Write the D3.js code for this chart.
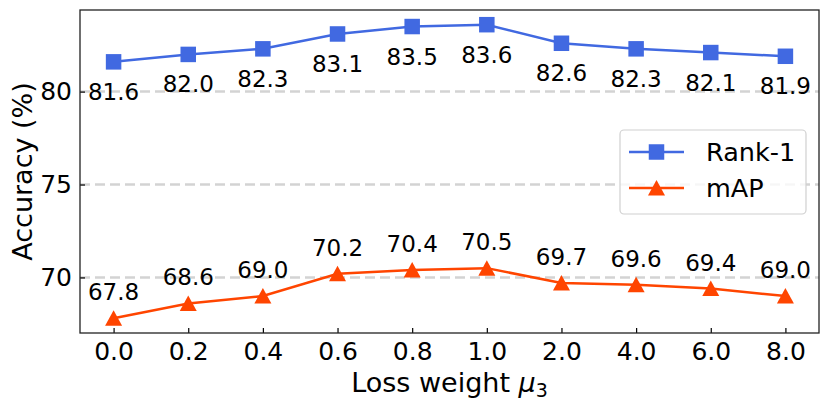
<!DOCTYPE html>
<html>
<head>
<meta charset="utf-8">
<script src="https://cdn.jsdelivr.net/npm/d3@7"></script>
<style>
  body { margin: 0; background: #fff; }
  text { font-family: "DejaVu Sans", sans-serif; fill: #000; }
</style>
</head>
<body>
<svg id="chart" width="830" height="407"></svg>
<script>
var weights = ['0.0', '0.2', '0.4', '0.6', '0.8', '1.0', '2.0', '4.0', '6.0', '8.0'];
var rank1 = [81.6, 82.0, 82.3, 83.1, 83.5, 83.6, 82.6, 82.3, 82.1, 81.9];
var mAP = [67.8, 68.6, 69.0, 70.2, 70.4, 70.5, 69.7, 69.6, 69.4, 69.0];
var yTicks = [70, 75, 80];

var svg = d3.select('#chart');
var mLeft = 80, mRight = 819, mTop = 10, mBottom = 333;

var x = d3.scaleLinear().domain([-0.45, weights.length - 0.55]).range([mLeft, mRight]);
var y = d3.scaleLinear().domain([67.01, 84.39]).range([mBottom, mTop]);

// grid
svg.selectAll('.grid').data(yTicks).enter()
    .append('line')
    .attr('x1', mLeft).attr('x2', mRight)
    .attr('y1', function(d){ return y(d); })
    .attr('y2', function(d){ return y(d); })
    .style('stroke', '#d3d3d3')
    .style('stroke-width', 2.5)
    .style('stroke-dasharray', '10,5');

// axes, ticks pointing in
var xAxis = d3.axisBottom(x)
    .tickValues(d3.range(weights.length))
    .tickFormat(function(i){ return weights[i]; })
    .tickSizeInner(-5).tickSizeOuter(0).tickPadding(9);
var yAxis = d3.axisLeft(y)
    .tickValues(yTicks)
    .tickSizeInner(-5).tickSizeOuter(0).tickPadding(8);

var gx = svg.append('g').attr('transform', 'translate(0,' + mBottom + ')').call(xAxis);
var gy = svg.append('g').attr('transform', 'translate(' + mLeft + ',0)').call(yAxis);
[gx, gy].forEach(function(g){
    g.select('.domain').remove();
    g.selectAll('line').style('stroke', '#000').style('stroke-width', 1.2);
    g.selectAll('text').style('font-size', '25px').style('font-family', '"DejaVu Sans", sans-serif');
});
gx.selectAll('text').attr('dy', '0.71em');

// frame
svg.append('rect')
    .attr('x', mLeft).attr('y', mTop)
    .attr('width', mRight - mLeft).attr('height', mBottom - mTop)
    .style('fill', 'none').style('stroke', '#222').style('stroke-width', 1.3);

var blue = '#4169e1', orange = '#ff4500';

var line = d3.line()
    .x(function(d, i){ return x(i); })
    .y(function(d){ return y(d); });

svg.append('path').datum(rank1).attr('d', line)
    .style('fill', 'none').style('stroke', blue).style('stroke-width', 2.5);
svg.append('path').datum(mAP).attr('d', line)
    .style('fill', 'none').style('stroke', orange).style('stroke-width', 2.5);

var sq = 15.5;
svg.selectAll('.sq').data(rank1).enter()
    .append('rect')
    .attr('x', function(d, i){ return x(i) - sq / 2; })
    .attr('y', function(d){ return y(d) - sq / 2; })
    .attr('width', sq).attr('height', sq)
    .style('fill', blue);

function tri(cx, cy){
    return 'M' + cx + ',' + (cy - 8) + 'L' + (cx - 8.5) + ',' + (cy + 7.5) + 'L' + (cx + 8.5) + ',' + (cy + 7.5) + 'Z';
}
svg.selectAll('.tri').data(mAP).enter()
    .append('path')
    .attr('d', function(d, i){ return tri(x(i), y(d)); })
    .style('fill', orange);

// value labels
svg.selectAll('.lr').data(rank1).enter()
    .append('text')
    .attr('x', function(d, i){ return x(i); })
    .attr('y', function(d){ return y(d) + 38; })
    .attr('text-anchor', 'middle')
    .style('font-size', '23px')
    .text(function(d){ return d.toFixed(1); });
svg.selectAll('.lm').data(mAP).enter()
    .append('text')
    .attr('x', function(d, i){ return x(i); })
    .attr('y', function(d){ return y(d) - 18; })
    .attr('text-anchor', 'middle')
    .style('font-size', '23px')
    .text(function(d){ return d.toFixed(1); });

// axis titles
svg.append('text')
    .attr('transform', 'translate(32,' + ((mTop + mBottom) / 2) + ') rotate(-90)')
    .attr('text-anchor', 'middle')
    .style('font-size', '27px')
    .text('Accuracy (%)');

var xl = svg.append('text')
    .attr('x', (mLeft + mRight) / 2).attr('y', 392)
    .attr('text-anchor', 'middle')
    .style('font-size', '27px');
xl.append('tspan').text('Loss weight ');
xl.append('tspan').style('font-style', 'italic').text('μ');
xl.append('tspan').attr('dy', 5).style('font-size', '19px').text('3');

// legend
var lg = svg.append('g');
lg.append('rect')
    .attr('x', 620).attr('y', 130).attr('width', 186).attr('height', 84)
    .attr('rx', 4)
    .style('fill', '#fff').style('fill-opacity', 0.8)
    .style('stroke', '#d0d0d0').style('stroke-width', 1.2);
var items = [['Rank-1', blue, 'sq'], ['mAP', orange, 'tri']];
items.forEach(function(it, k){
    var cy = 152 + k * 36;
    lg.append('line').attr('x1', 629).attr('x2', 684).attr('y1', cy).attr('y2', cy)
        .style('stroke', it[1]).style('stroke-width', 2.5);
    if (it[2] == 'sq') {
        lg.append('rect').attr('x', 656.5 - sq / 2).attr('y', cy - sq / 2)
            .attr('width', sq).attr('height', sq).style('fill', it[1]);
    } else {
        lg.append('path').attr('d', tri(656.5, cy)).style('fill', it[1]);
    }
    lg.append('text').attr('x', 706).attr('y', cy).attr('dy', '0.36em')
        .style('font-size', '25.5px').text(it[0]);
});
</script>
</body>
</html>
